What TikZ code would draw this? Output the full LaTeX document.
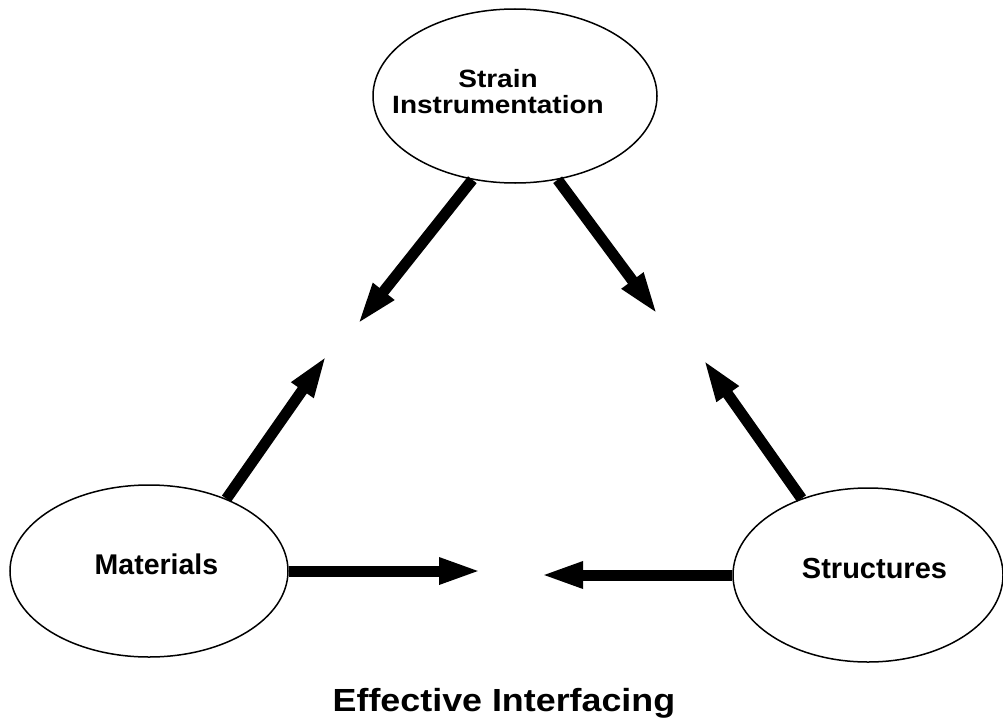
\documentclass[tikz,border=0pt]{standalone}
\usepackage{fontspec}
\setmainfont{Liberation Sans}
\newfontfamily\widesans[FakeStretch=1.12]{Liberation Sans}
\usetikzlibrary{shapes.geometric,arrows.meta}
\tikzset{
  ell/.style={draw, ellipse, line width=1.5pt, inner sep=0pt},
  lab/.style={anchor=base, inner sep=0pt, font=\bfseries\fontsize{28.5}{28.5}\selectfont},
  fat/.style={line width=11pt, line cap=butt, -{Triangle[length=43pt,width=24pt]}},
}
\begin{document}
\begin{tikzpicture}[x=1pt,y=-1pt]
\useasboundingbox (0,0) rectangle (1003,725);
\node[ell, minimum width=284pt, minimum height=174pt] (si) at (515,96) {};
\node[ell, minimum width=278pt, minimum height=172pt] (mat) at (149,571) {};
\node[ell, minimum width=270pt, minimum height=174pt] (str) at (868,575) {};
\node[lab, font=\widesans\bfseries\fontsize{25}{25}\selectfont] (silab1) at (498,87) {Strain};
\node[lab, font=\widesans\bfseries\fontsize{25}{25}\selectfont] (silab2) at (498,113) {Instrumentation};
\node[lab] (matlab) at (156.5,574) {Materials};
\node[lab, font=\bfseries\fontsize{29}{29}\selectfont] (strlab) at (874.5,578) {Structures};
\coordinate (t1) at (357,325);
\coordinate (t2) at (658,315);
\coordinate (t3) at (327,355);
\coordinate (t4) at (703,359);
\coordinate (t5) at (482,572);
\coordinate (t6) at (540,573);
\draw[fat] (si.243) -- (t1);
\draw[fat] (si.297) -- (t2);
\draw[fat] (mat.43.5) -- (t3);
\draw[fat] (str.131.7) -- (t4);
\draw[fat] (mat.east) -- (mat.east -| t5);
\draw[fat] (str.west) -- (str.west -| t6);
\node[lab, font=\widesans\bfseries\fontsize{32}{32}\selectfont] (title) at (504,711) {Effective Interfacing};
\end{tikzpicture}
\end{document}
